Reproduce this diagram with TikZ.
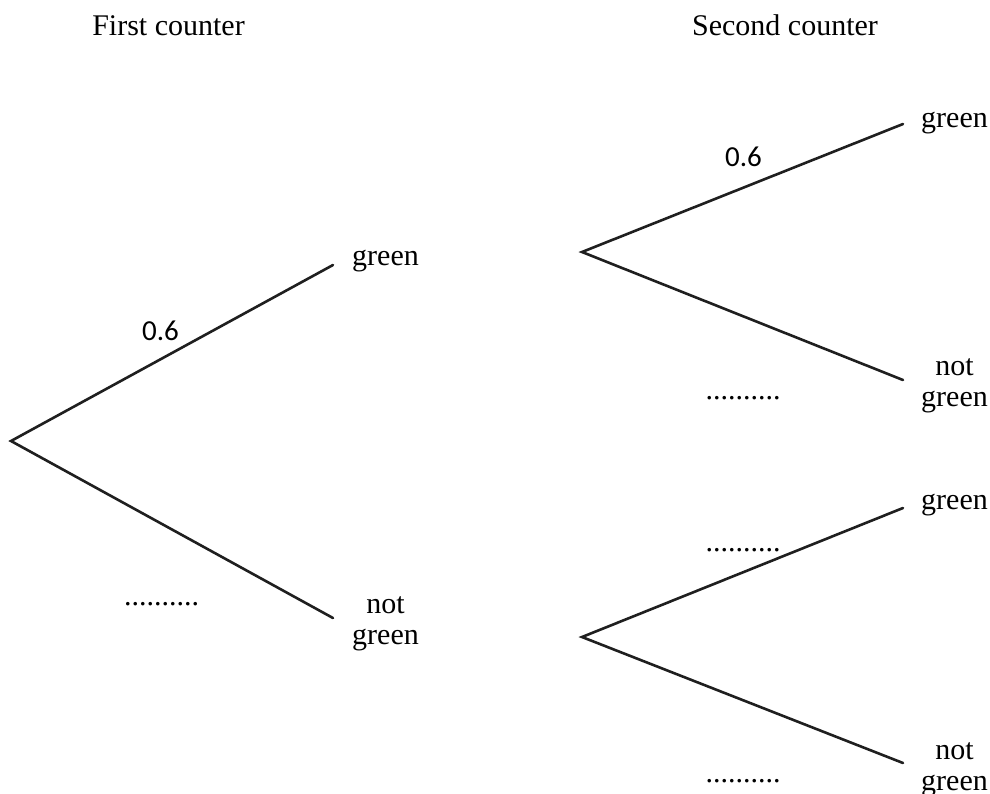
\documentclass[tikz,border=0pt]{standalone}
\usepackage{fontspec}
\setmainfont{Liberation Serif}
\newfontfamily\probfont{Carlito}
\begin{document}
\begin{tikzpicture}[x=1pt,y=-1pt,
  branch/.style={line width=2.6pt,draw=black!88,line cap=round,line join=miter},
  outcome/.style={font=\fontsize{30}{31}\selectfont,anchor=base,inner sep=0pt,align=center},
  heading/.style={font=\fontsize{30}{36}\selectfont,anchor=base,inner sep=0pt},
  prob/.style={font=\probfont\fontsize{29}{34}\selectfont,anchor=base,inner sep=0pt},
  blank/.style={font=\fontsize{30}{36}\selectfont,anchor=base,inner sep=0pt}]
\useasboundingbox (0,0) rectangle (990,793);

% column headings
\node[heading] (h1) at (168.5,35) {First counter};
\node[heading] (h2) at (785,35) {Second counter};

% branch points
\coordinate (r)  at (11,441);
\coordinate (a)  at (333,265);
\coordinate (b)  at (333,618);
\coordinate (c)  at (582,252);
\coordinate (c1) at (903,124);
\coordinate (c2) at (903,380);
\coordinate (d)  at (582,637);
\coordinate (d1) at (903,508);
\coordinate (d2) at (903,763);

% branches
\draw[branch] (a) -- (r) -- (b);
\draw[branch] (c1) -- (c) -- (c2);
\draw[branch] (d1) -- (d) -- (d2);

% outcomes (two-line labels are placed by the baseline of their last line)
\node[outcome] (g1)  at (385.5,265) {green};
\node[outcome] (ng1) at (385.5,644) {not\\green};
\node[outcome] (g2)  at (954.5,127) {green};
\node[outcome] (ng2) at (954.5,406) {not\\green};
\node[outcome] (g3)  at (954.5,509) {green};
\node[outcome] (ng3) at (954.5,790) {not\\green};

% probabilities
\node[prob] (p1) at (160.5,340) {0.6};
\node[prob] (p2) at (743.5,166) {0.6};

% answer spaces
\node[blank] (s1) at (161.5,605) {..........};
\node[blank] (s2) at (743,399) {..........};
\node[blank] (s3) at (743,551) {..........};
\node[blank] (s4) at (743,782) {..........};
\end{tikzpicture}
\end{document}
